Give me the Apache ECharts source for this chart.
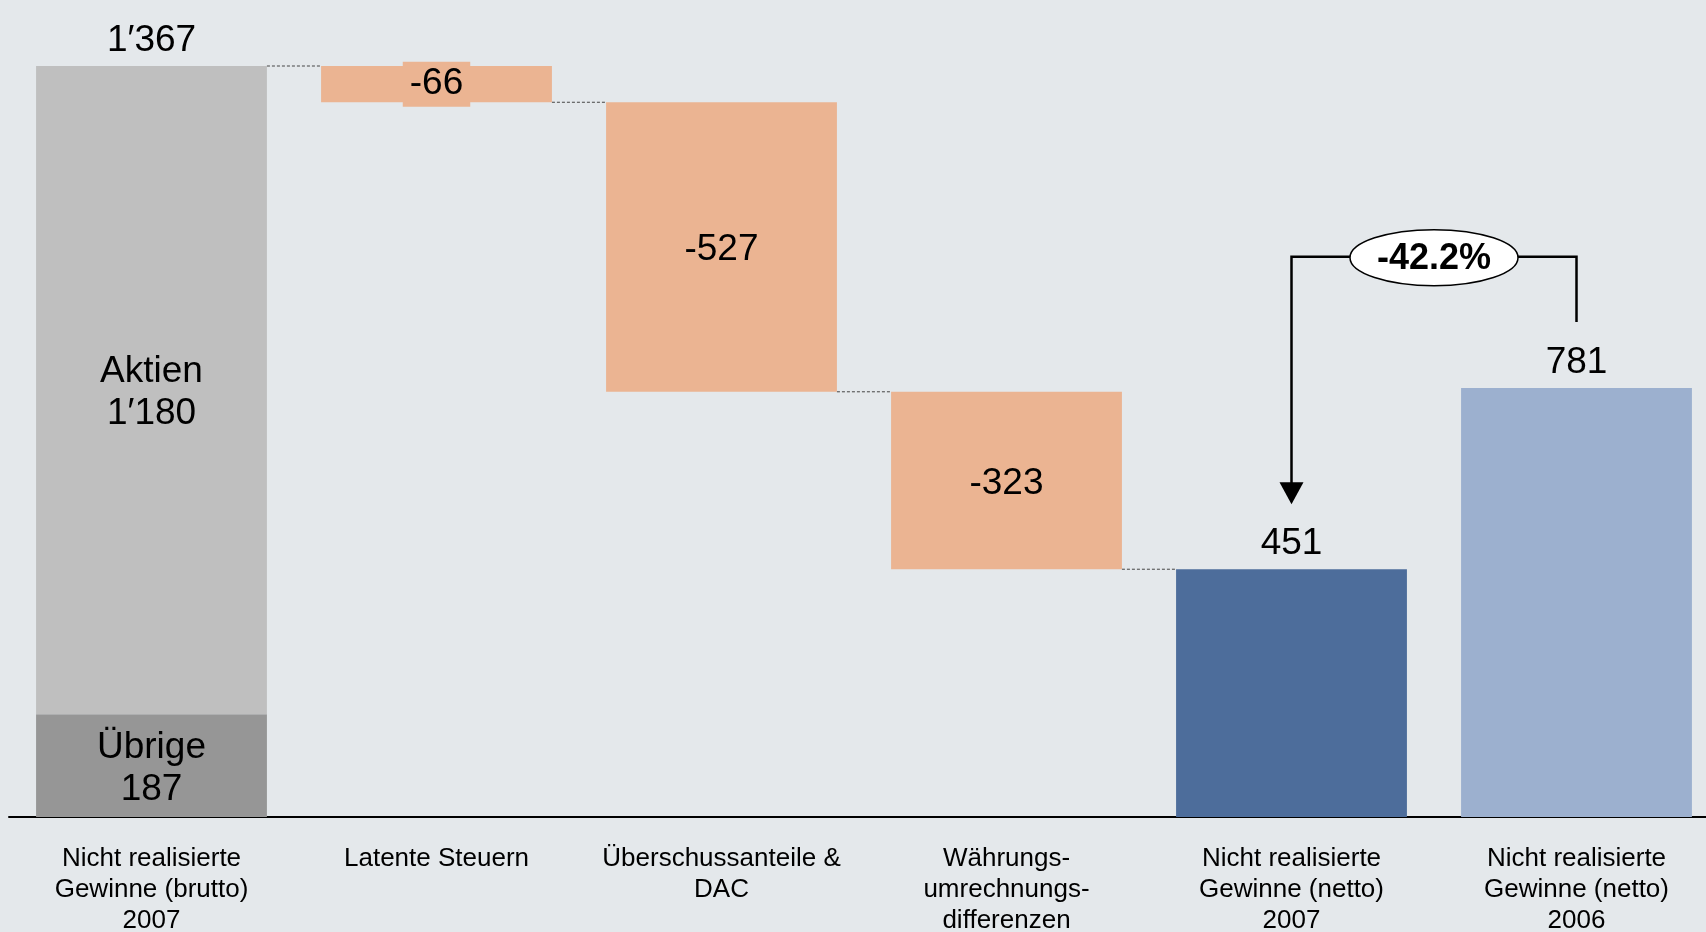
<!DOCTYPE html>
<html>
<head>
<meta charset="utf-8">
<script src="https://cdn.jsdelivr.net/npm/echarts@6/dist/echarts.min.js"></script>
<style>
  html, body { margin: 0; padding: 0; background: #e4e8eb; }
  #chart { width: 1706px; height: 932px; }
</style>
</head>
<body>
<div id="chart"></div>
<script>
// Kategorien der x-Achse
const categories = [
  'Nicht realisierte\nGewinne (brutto)\n2007',
  'Latente Steuern',
  'Überschussanteile &\nDAC',
  'Währungs-\numrechnungs-\ndifferenzen',
  'Nicht realisierte\nGewinne (netto)\n2007',
  'Nicht realisierte\nGewinne (netto)\n2006'
];
// Bruttogewinne 2007, aufgeteilt
const uebrige = 187;
const aktien = 1180;
// Abzüge (negativ)
const deltas = [-66, -527, -323];
// Nettogewinne
const netto2007 = 451;
const netto2006 = 781;
const changeLabel = '-42.2%';

const gross = uebrige + aktien;

// Tausendertrennzeichen wie im Original
function fmt(v) {
  return String(v).replace(/\B(?=(\d{3})+(?!\d))/g, '\u2032');
}

// Wasserfall: unsichtbare Basis + Abzugsbalken
const base = ['-'];
const drops = ['-'];
const steps = [[0, gross]];
let run = gross;
deltas.forEach((d, i) => {
  run += d;
  base.push(run);
  drops.push(-d);
  steps.push([i + 1, run]);
});
base.push('-', '-');
drops.push('-', '-');

const BAR = 0.81;
const labelFont = {
  fontFamily: 'Liberation Sans, Arial, sans-serif',
  fontSize: 37,
  color: '#000'
};

const chart = echarts.init(document.getElementById('chart'));
const option = {
  backgroundColor: '#e4e8eb',
  animation: false,
  grid: { left: 9, width: 1710, top: 66, bottom: 115, outerBoundsMode: 'none' },
  xAxis: {
    type: 'category',
    data: categories,
    axisLine: { lineStyle: { color: '#000', width: 2 } },
    axisTick: { show: false },
    axisLabel: {
      interval: 0,
      margin: 26,
      fontFamily: 'Liberation Sans, Arial, sans-serif',
      fontSize: 26,
      lineHeight: 31,
      color: '#000'
    }
  },
  yAxis: {
    type: 'value',
    min: 0,
    max: gross,
    show: false,
    splitLine: { show: false }
  },
  series: [
    {
      // gestrichelte Verbindungslinien zwischen den Stufen
      type: 'custom',
      z: 1,
      data: steps,
      renderItem: function (params, api) {
        const p = api.coord([api.value(0), api.value(1)]);
        const band = api.size([1, 0])[0];
        const half = band * BAR / 2;
        return {
          type: 'line',
          shape: { x1: p[0] + half, y1: p[1], x2: p[0] + band - half, y2: p[1] },
          style: { stroke: '#444', lineWidth: 1, lineDash: [3, 2] }
        };
      }
    },
    {
      name: 'Basis',
      type: 'bar',
      stack: 'w',
      barWidth: BAR * 100 + '%',
      itemStyle: { color: 'transparent' },
      data: base
    },
    {
      name: 'Übrige',
      type: 'bar',
      stack: 'w',
      itemStyle: { color: '#969696' },
      label: {
        show: true,
        position: 'inside',
        offset: [0, 3],
        ...labelFont,
        lineHeight: 42,
        formatter: (p) => 'Übrige\n' + fmt(p.value)
      },
      data: [uebrige, '-', '-', '-', '-', '-']
    },
    {
      name: 'Aktien',
      type: 'bar',
      stack: 'w',
      itemStyle: { color: '#bfbfbf' },
      label: {
        show: true,
        position: 'inside',
        offset: [0, 3],
        ...labelFont,
        lineHeight: 42,
        formatter: (p) => 'Aktien\n' + fmt(p.value)
      },
      data: [aktien, '-', '-', '-', '-', '-']
    },
    {
      name: 'Abzüge',
      type: 'bar',
      stack: 'w',
      itemStyle: { color: '#ebb492' },
      label: {
        show: true,
        position: 'inside',
        offset: [0, 3],
        ...labelFont,
        formatter: (p) => '-' + fmt(p.value)
      },
      data: drops.map((v, i) => i === 1 ? {
        value: v,
        label: { backgroundColor: '#ebb492', padding: [4, 7, 4, 7], offset: [0, 0] }
      } : v)
    },
    {
      name: 'Netto 2007',
      type: 'bar',
      stack: 'w',
      itemStyle: { color: '#4d6d9b' },
      label: { show: true, position: 'top', distance: 7, ...labelFont, formatter: (p) => fmt(p.value) },
      data: ['-', '-', '-', '-', netto2007, '-']
    },
    {
      name: 'Netto 2006',
      type: 'bar',
      stack: 'w',
      itemStyle: { color: '#9cb0cf' },
      label: { show: true, position: 'top', distance: 7, ...labelFont, formatter: (p) => fmt(p.value) },
      data: ['-', '-', '-', '-', '-', netto2006]
    },
    {
      // Summe brutto über dem ersten Balken
      type: 'scatter',
      symbolSize: 0,
      itemStyle: { color: '#000', opacity: 1 },
      label: { show: true, position: 'top', distance: 7, ...labelFont, formatter: (p) => fmt(p.value[1]) },
      data: [[0, gross]]
    },
    {
      // Klammer mit Veränderung 2007 vs 2006
      type: 'custom',
      z: 10,
      data: [[4, netto2007, 5, netto2006]],
      encode: { x: [0, 2], y: [1, 3] },
      renderItem: function (params, api) {
        const a = api.coord([api.value(0), api.value(1)]);
        const b = api.coord([api.value(2), api.value(3)]);
        const lvl = api.coord([api.value(0), 1020])[1];
        const yTip = a[1] - 65;
        const yEnd = b[1] - 66;
        const cx = (a[0] + b[0]) / 2;
        const stroke = { stroke: '#000', lineWidth: 2.5, fill: null };
        return {
          type: 'group',
          children: [
            { type: 'polyline', shape: { points: [[a[0], yTip - 20], [a[0], lvl], [b[0], lvl], [b[0], yEnd]] }, style: stroke },
            { type: 'polygon', shape: { points: [[a[0] - 12, yTip - 22], [a[0] + 12, yTip - 22], [a[0], yTip]] }, style: { fill: '#000' } },
            { type: 'ellipse', shape: { cx: cx, cy: lvl + 1, rx: 84, ry: 28 }, style: { fill: '#fff', stroke: '#000', lineWidth: 1.5 } },
            {
              type: 'text',
              x: cx,
              y: lvl + 2,
              style: {
                text: changeLabel,
                fontFamily: 'Liberation Sans, Arial, sans-serif',
                fontSize: 36,
                fontWeight: 'bold',
                fill: '#000',
                align: 'center',
                verticalAlign: 'middle'
              }
            }
          ]
        };
      }
    }
  ]
};
chart.setOption(option);
</script>
</body>
</html>
